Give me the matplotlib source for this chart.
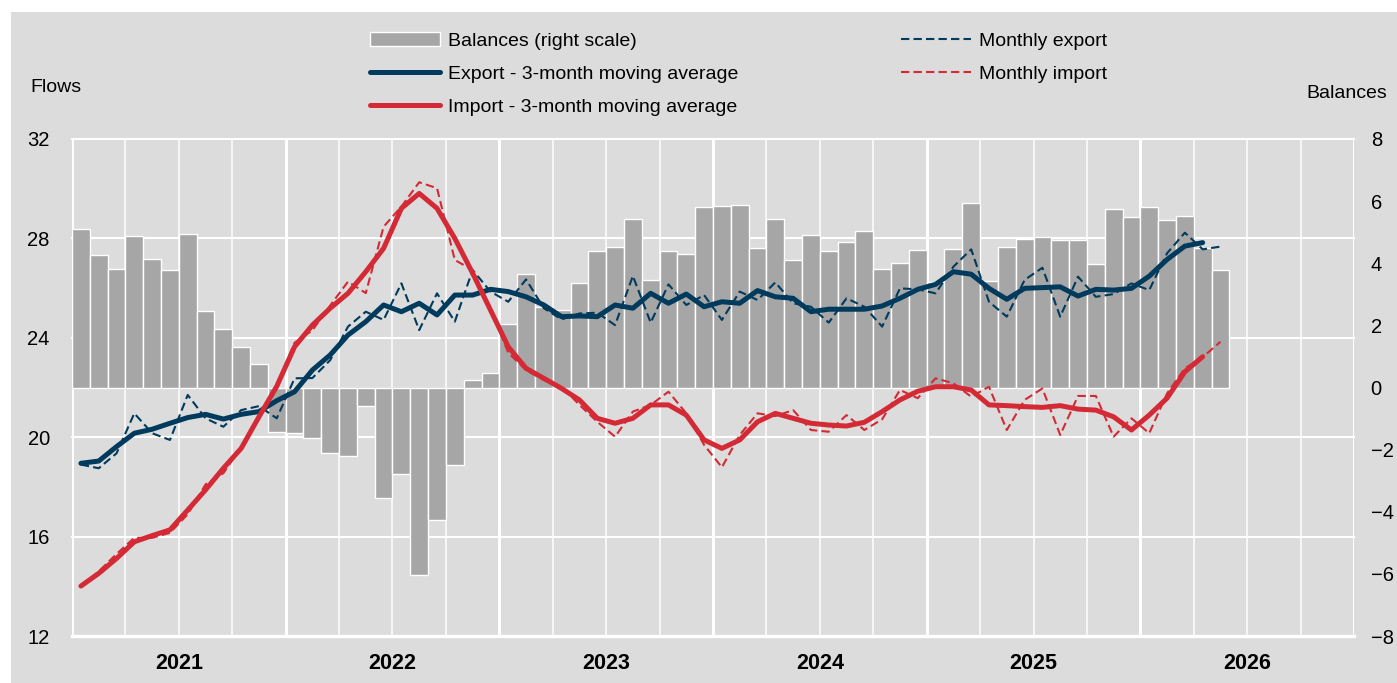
import numpy as np
import matplotlib.pyplot as plt
from matplotlib import transforms
from matplotlib.patches import Rectangle

# monthly data, Jan 2021 -> May 2026
start_year = 2021
n_years = 6

# balances (right scale), 65 months
balances = [5.1, 4.25, 3.8, 4.87, 4.15, 3.78, 4.95, 2.47, 1.89, 1.3, 0.75, -1.42,
            -1.46, -1.64, -2.12, -2.2, -0.59, -3.55, -2.79, -6.03, -4.27, -2.48, 0.24, 0.46,
            2.05, 3.67, 2.6, 2.48, 3.36, 4.39, 4.51, 5.44, 3.45, 4.39, 4.29, 5.82,
            5.85, 5.87, 4.48, 5.44, 4.1, 4.9, 4.39, 4.67, 5.05, 3.83, 4.0, 4.44,
            3.41, 4.46, 5.94, 3.43, 4.53, 4.79, 4.83, 4.75, 4.75, 3.99, 5.74, 5.49,
            5.82, 5.38, 5.51, 4.48, 3.79]

# 3-month moving averages, 64 months
export_ma = [18.95, 19.04, 19.62, 20.16, 20.32, 20.56, 20.79, 20.92, 20.73, 20.92, 21.03, 21.47,
             21.83, 22.7, 23.31, 24.11, 24.65, 25.32, 25.05, 25.39, 24.92, 25.72, 25.72, 25.95,
             25.86, 25.65, 25.32, 24.85, 24.88, 24.85, 25.32, 25.19, 25.79, 25.39, 25.76, 25.25,
             25.45, 25.39, 25.9, 25.65, 25.59, 25.05, 25.15, 25.15, 25.15, 25.28, 25.59, 25.95,
             26.15, 26.66, 26.56, 25.99, 25.55, 25.99, 26.02, 26.05, 25.68, 25.95, 25.92, 25.99,
             26.48, 27.15, 27.69, 27.83]
import_ma = [14.01, 14.52, 15.12, 15.79, 16.04, 16.27, 17.07, 17.88, 18.75, 19.55, 20.82, 22.05,
             23.64, 24.51, 25.19, 25.79, 26.66, 27.6, 29.21, 29.81, 29.21, 28.0, 26.6, 25.12,
             23.64, 22.77, 22.37, 21.96, 21.5, 20.76, 20.56, 20.76, 21.3, 21.3, 20.89, 19.89,
             19.55, 19.89, 20.62, 20.96, 20.76, 20.56, 20.49, 20.45, 20.6, 21.03, 21.5, 21.85,
             22.03, 22.03, 21.9, 21.3, 21.27, 21.23, 21.2, 21.27, 21.13, 21.09, 20.82, 20.29,
             20.89, 21.57, 22.63, 23.24]

# monthly flows, 65 months
export_m = [18.9, 18.75, 19.35, 20.96, 20.16, 19.89, 21.7, 20.76, 20.42, 21.09, 21.25, 20.76,
            22.37, 22.38, 23.1, 24.45, 25.05, 24.72, 26.19, 24.31, 25.79, 24.65, 26.73, 25.86,
            25.45, 26.35, 25.19, 24.74, 24.98, 25.01, 24.51, 26.49, 24.61, 26.15, 25.32, 25.72,
            24.72, 25.86, 25.52, 26.23, 25.39, 25.25, 24.61, 25.59, 25.25, 24.45, 25.99, 25.95,
            25.79, 26.86, 27.56, 25.45, 24.85, 26.33, 26.82, 24.85, 26.46, 25.65, 25.76, 26.19,
            25.92, 27.4, 28.23, 27.56, 27.67]
import_m = [14.0, 14.6, 15.3, 15.95, 15.95, 16.15, 16.9, 18.1, 18.55, 19.6, 20.75, 22.1,
            23.8, 24.3, 25.3, 26.26, 25.8, 28.47, 29.28, 30.26, 30.02, 27.13, 26.73, 25.2,
            23.4, 22.7, 22.3, 22.03, 21.3, 20.62, 20.02, 21.03, 21.3, 21.83, 20.96, 19.69,
            18.79, 20.09, 20.96, 20.85, 21.09, 20.29, 20.22, 20.89, 20.29, 20.72, 21.9, 21.57,
            22.37, 22.17, 21.63, 22.03, 20.29, 21.5, 21.96, 20.09, 21.66, 21.66, 20.02, 20.76,
            20.16, 21.76, 22.77, 23.22, 23.84]

years = [str(start_year + i) for i in range(n_years)]
flow_ticks = [12, 16, 20, 24, 28, 32]
bal_ticks = [-8, -6, -4, -2, 0, 2, 4, 6, 8]

navy = '#003a5c'
red = '#d42a35'
bg = '#dcdcdc'
bar_col = '#a6a6a6'
plt.rcParams['font.family'] = ['Liberation Sans', 'DejaVu Sans']
fs = 14

fig = plt.figure(figsize=(13.97, 6.83), dpi=100)
fig.patches.append(Rectangle((11 / 1397, 0), 1, 1 - 12 / 683, transform=fig.transFigure,
                             facecolor=bg, edgecolor='none', zorder=-10))

rect = [72 / 1397, 47 / 683, (1354 - 72) / 1397, (636 - 139) / 683]
ax = fig.add_axes(rect)      # flows (left)
axb = ax.twinx()             # balances (right)
ax.set_zorder(axb.get_zorder() + 1)
ax.patch.set_visible(False)
axb.patch.set_facecolor(bg)

n_months = 12 * n_years
x_bar = np.arange(len(balances)) + 0.5
x_ma = np.arange(len(export_ma)) + 0.5
x_m = np.arange(len(export_m)) + 0.5

# grid (behind bars)
for q in range(0, n_months + 1, 3):
    axb.axvline(q, color='white', lw=2.2 if q % 12 == 0 else 1.1, zorder=0)
tr = transforms.blended_transform_factory(axb.transAxes, ax.transData)
for t in flow_ticks:
    axb.plot([0, 1], [t, t], transform=tr, color='white',
             lw=2.4 if t == flow_ticks[0] else 1.5, zorder=0, clip_on=False)

bars = axb.bar(x_bar, balances, width=1.0, color=bar_col, edgecolor='white',
               linewidth=1.0, zorder=2, label='Balances (right scale)')

l1, = ax.plot(x_ma, export_ma, color=navy, lw=3.6, solid_capstyle='round',
              label='Export - 3-month moving average')
l3, = ax.plot(x_m, export_m, color=navy, lw=1.5, dashes=(4, 2),
              label='Monthly export')
l2, = ax.plot(x_ma, import_ma, color=red, lw=3.6, solid_capstyle='round',
              label='Import - 3-month moving average')
l4, = ax.plot(x_m, import_m, color=red, lw=1.5, dashes=(4, 2),
              label='Monthly import')

ax.set_xlim(0, n_months)
ax.set_ylim(12, 32)
axb.set_ylim(-8, 8)
ax.set_yticks(flow_ticks)
axb.set_yticks(bal_ticks)
ax.set_xticks([])
ax.set_xticks(np.arange(6, n_months, 12), minor=True)
ax.set_xticklabels(years, minor=True, fontsize=15.5, fontweight='bold')
ax.tick_params(axis='x', which='both', length=0, pad=12)
ax.tick_params(axis='y', length=0, pad=16, labelsize=fs + 0.5)
axb.tick_params(axis='y', length=0, pad=12, labelsize=fs + 0.5)
for a in (ax, axb):
    for s in a.spines.values():
        s.set_visible(False)

fig.text(56 / 1397, 1 - 88 / 683, 'Flows', ha='center', va='center', fontsize=fs)
fig.text(1347 / 1397, 1 - 94 / 683, 'Balances', ha='center', va='center', fontsize=fs)

fig.legend([bars, l1, l2, l3, l4],
           [h.get_label() for h in (bars, l1, l2, l3, l4)],
           ncol=2, loc='upper left', bbox_to_anchor=(370 / 1397, 1 - 32 / 683),
           frameon=False, fontsize=fs, borderpad=0, borderaxespad=0,
           handlelength=3.6, handletextpad=0.4, columnspacing=8.4,
           labelspacing=0.8)

fig.savefig('out.png', dpi=100)
